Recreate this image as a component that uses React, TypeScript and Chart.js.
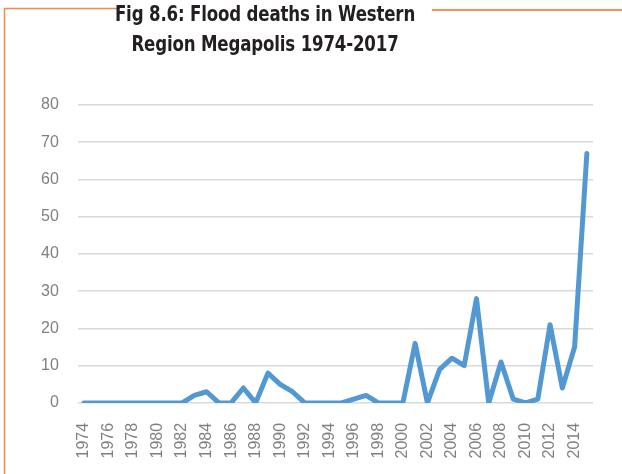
import React, { useEffect, useRef } from "react";
import { Chart, registerables } from "chart.js";
Chart.register(...registerables);

const years: string[] = [
  "1974","1975","1976","1977","1978","1979","1980","1981","1982","1983",
  "1984","1985","1986","1987","1988","1989","1990","1991","1992","1993",
  "1994","1995","1996","1997","1998","1999","2000","2001","2002","2003",
  "2004","2005","2006","2007","2008","2009","2010","2011","2012","2013",
  "2014","2015",
];
const deaths: number[] = [
  0,0,0,0,0,0,0,0,0,2,
  3,0,0,4,0,8,5,3,0,0,
  0,0,1,2,0,0,0,16,0,9,
  12,10,28,0,11,1,0,1,21,4,
  15,67,
];
const titleLines: string[] = ["Fig 8.6: Flood deaths in Western", "Region Megapolis 1974-2017"];
const yTicks = { min: 0, max: 80, step: 10 };

const framePlugin = {
  id: "frame",
  beforeDraw(chart: any) {
    const ctx = chart.ctx;
    ctx.save();
    ctx.strokeStyle = "#f4874a";
    ctx.lineWidth = 1.5;
    ctx.beginPath();
    ctx.moveTo(120, 8.5);
    ctx.lineTo(4.5, 8.5);
    ctx.lineTo(4.5, 474);
    ctx.stroke();
    ctx.strokeStyle = "#f26a2a";
    ctx.beginPath();
    ctx.moveTo(432, 10);
    ctx.lineTo(622, 10);
    ctx.stroke();
    ctx.restore();
  },
};

export default function App() {
  const ref = useRef<HTMLCanvasElement | null>(null);
  useEffect(() => {
    document.body.style.margin = "0";
    const chart = new Chart(ref.current as HTMLCanvasElement, {
      type: "line",
      data: {
        labels: years,
        datasets: [
          {
            data: deaths,
            borderColor: "#5299d4",
            borderWidth: 5,
            pointRadius: 0,
            tension: 0,
            borderCapStyle: "round",
            borderJoinStyle: "round",
            fill: false,
          },
        ],
      },
      options: {
        responsive: false,
        animation: false,
        layout: { padding: { top: 105, left: 22, right: 29, bottom: 3.5 } },
        plugins: {
          legend: { display: false },
          tooltip: { enabled: false },
          title: { display: false },
        },
        scales: {
          x: {
            offset: true,
            grid: { display: false },
            border: { display: false },
            ticks: {
              autoSkip: false,
              maxRotation: 90,
              minRotation: 90,
              padding: 12,
              color: "#808080",
              font: { family: "'Liberation Sans', Arial, sans-serif", size: 16 },
              callback: (_v: any, i: number) => (i % 2 === 0 ? years[i] : ""),
            },
          },
          y: {
            min: yTicks.min,
            max: yTicks.max,
            grid: { color: "#d9d9d9", lineWidth: 1.5, drawTicks: false },
            border: { display: false },
            ticks: {
              stepSize: yTicks.step,
              padding: 19,
              color: "#808080",
              font: { family: "'Liberation Sans', Arial, sans-serif", size: 16 },
            },
          },
        },
      },
      plugins: [framePlugin],
    });
    return () => chart.destroy();
  }, []);
  return (
    <div style={{ position: "fixed", left: 0, top: 0, width: 622, height: 474, background: "#fff" }}>
      <canvas ref={ref} width={622} height={474} style={{ position: "absolute", left: 0, top: 0 }} />
      <div
        style={{
          position: "absolute",
          left: 265 - 200,
          width: 400,
          top: -1,
          textAlign: "center",
          fontFamily: "'Liberation Sans Narrow', 'DejaVu Sans Condensed', sans-serif",
          fontWeight: "bold",
          fontSize: 22,
          lineHeight: "30px",
          color: "#231f20",
          letterSpacing: "-0.2px",
          transform: "scaleX(0.84)",
          transformOrigin: "center top",
        }}
      >
        {titleLines.map((t, i) => (
          <div key={i}>{t}</div>
        ))}
      </div>
    </div>
  );
}
